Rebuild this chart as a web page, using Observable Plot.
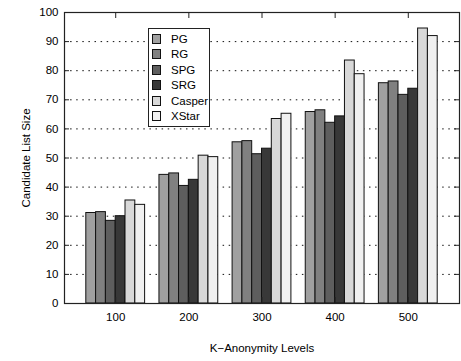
<!DOCTYPE html>
<html>
<head>
<meta charset="utf-8">
<script src="https://cdn.jsdelivr.net/npm/d3@7"></script>
<script src="https://cdn.jsdelivr.net/npm/@observablehq/plot@0.6"></script>
<style>
  body { margin: 0; background: #fff; }
  #chart { position: relative; width: 461px; height: 361px; font-family: "Liberation Sans", Arial, sans-serif; }
  #legend { position: absolute; left: 148px; top: 28px; width: 62px; height: 99px; box-sizing: border-box;
            border: 1px solid #222; background: #fff; }
  .item { position: absolute; left: 3px; height: 11px; font-size: 11.5px; line-height: 11px; color: #000; }
  .swatch { position: absolute; left: 0; top: 0; width: 9px; height: 10px; box-sizing: border-box; border: 1px solid #111; }
  .name { position: absolute; left: 19px; top: 0; white-space: nowrap; }
</style>
</head>
<body>
<div id="chart"></div>
<script>
// K-anonymity levels (x groups)
const levels = [100, 200, 300, 400, 500];
// Algorithms compared at each level
const series = ["PG", "RG", "SPG", "SRG", "Casper", "XStar"];
// Candidate list size per algorithm, one value per level
const PG     = [31.1, 44.2, 55.4, 65.8, 75.7];
const RG     = [31.4, 44.7, 55.8, 66.4, 76.3];
const SPG    = [28.4, 40.4, 51.3, 62.1, 71.7];
const SRG    = [30.0, 42.5, 53.2, 64.3, 73.8];
const Casper = [35.4, 50.8, 63.4, 83.5, 94.5];
const XStar  = [33.9, 50.3, 65.2, 78.8, 91.9];
// y-axis tick values
const yTicks = [0, 10, 20, 30, 40, 50, 60, 70, 80, 90, 100];
const gridValues = [10, 20, 30, 40, 50, 60, 70, 80, 90];

const fills = ["#a0a0a0", "#808080", "#5e5e5e", "#383838", "#d8d8d8", "#f0f0f0"];
const valuesBySeries = [PG, RG, SPG, SRG, Casper, XStar];

const rows = [];
series.forEach((s, j) => levels.forEach((k, i) => rows.push({series: s, j, k, value: valuesBySeries[j][i]})));

const W = 461, H = 361;
const margin = {left: 64, right: 2, top: 12, bottom: 58};
const frameW = W - margin.left - margin.right;
const frameH = H - margin.top - margin.bottom;
const barWidth = 13.4; // in K units; six bars per cluster
const tickLen = 5;

const chart = Plot.plot({
  width: W,
  height: H,
  marginLeft: margin.left,
  marginRight: margin.right,
  marginTop: margin.top,
  marginBottom: margin.bottom,
  style: {fontFamily: "'Liberation Sans', Arial, sans-serif", fontSize: "11.5px", color: "#000", background: "#fff"},
  x: {domain: [30, 570]},
  y: {domain: [0, 100]},
  color: {domain: series, range: fills},
  marks: [
    // dotted horizontal grid
    Plot.ruleY(gridValues, {y: d => d, stroke: "#111", strokeWidth: 1, strokeDasharray: "1.5,4.6"}),
    // clustered bars
    Plot.rectY(rows, {
      x1: d => d.k + (d.j - 3) * barWidth,
      x2: d => d.k + (d.j - 2) * barWidth,
      y: "value",
      fill: "series",
      stroke: "#111",
      strokeWidth: 1
    }),
    // inward ticks on all four sides
    Plot.ruleY(yTicks, {y: d => d, insetRight: frameW - tickLen, stroke: "#222"}),
    Plot.ruleY(yTicks, {y: d => d, insetLeft: frameW - tickLen, stroke: "#222"}),
    Plot.ruleX(levels, {x: d => d, insetBottom: frameH - 6, stroke: "#222"}),
    Plot.ruleX(levels, {x: d => d, insetTop: frameH - 6, stroke: "#222"}),
    Plot.frame({stroke: "#222", strokeWidth: 1.2}),
    Plot.axisY({ticks: yTicks, tickSize: 0, tickPadding: 6, label: "Candidate List Size",
      labelAnchor: "center", labelOffset: 43, labelArrow: "none"}),
    Plot.axisX({ticks: levels, tickSize: 0, tickPadding: 9, tickFormat: d => String(d),
      label: "K\u2212Anonymity Levels", labelAnchor: "center", labelOffset: 48, labelArrow: "none"})
  ]
});

const root = document.getElementById("chart");
root.appendChild(chart);

// legend box
const legend = document.createElement("div");
legend.id = "legend";
series.forEach((s, j) => {
  const item = document.createElement("div");
  item.className = "item";
  item.style.top = (5 + j * 15.4) + "px";
  const sw = document.createElement("span");
  sw.className = "swatch";
  sw.style.background = fills[j];
  const nm = document.createElement("span");
  nm.className = "name";
  nm.textContent = s;
  item.appendChild(sw);
  item.appendChild(nm);
  legend.appendChild(item);
});
root.appendChild(legend);
</script>
</body>
</html>
